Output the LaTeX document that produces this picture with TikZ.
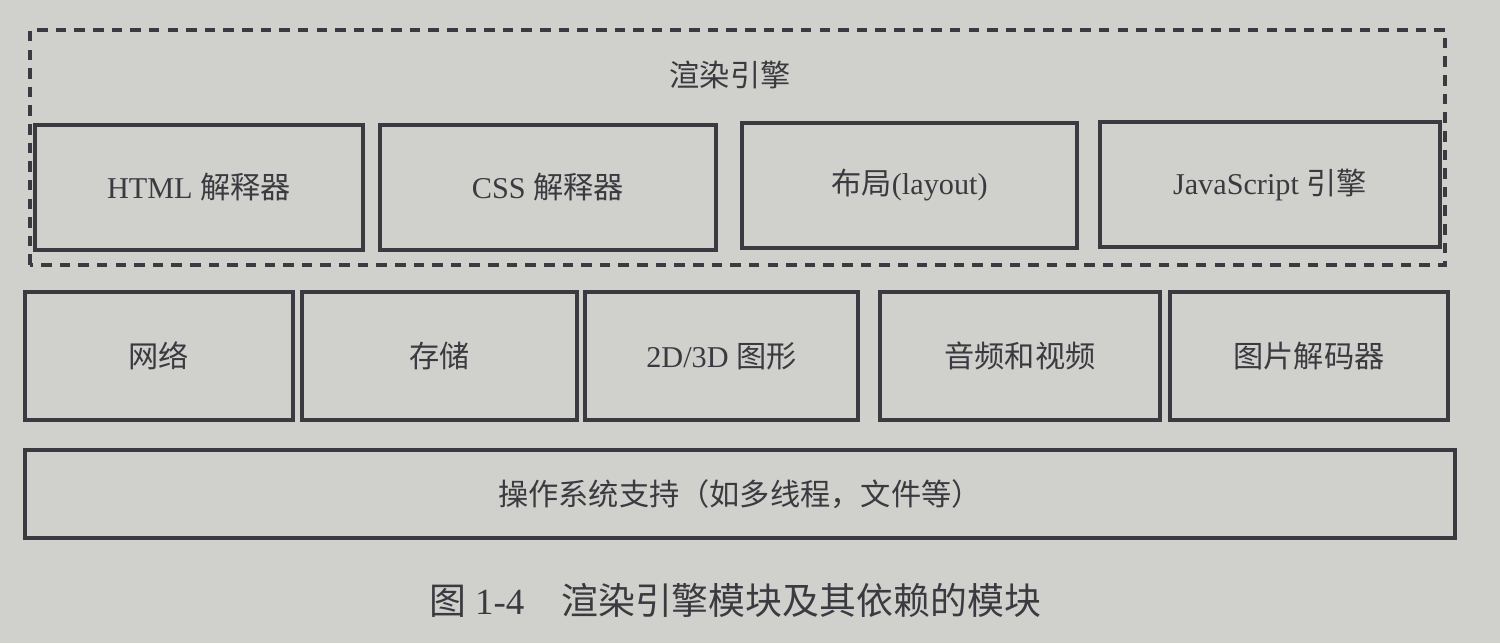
\documentclass[tikz,border=0pt]{standalone}
\usepackage{fontspec}
\setmainfont{Liberation Serif}
\newfontfamily\cjk{Noto Sans CJK SC}
\definecolor{paper}{RGB}{208,208,204}
\definecolor{ink}{RGB}{58,58,64}
\tikzset{
  module/.style={rectangle, draw=ink, line width=1.1pt, inner sep=0pt,
    text=ink, font=\fontsize{8.6}{10}\selectfont},
  toprow/.style={module, minimum height=1.25cm},
  midrow/.style={module, minimum height=1.28cm},
}

\begin{document}
\begin{tikzpicture}
      \fill[paper] (0,0) rectangle (15,6.43);
      \useasboundingbox (0,0) rectangle (15,6.43);

      % rendering engine
      \draw[ink, line width=1.1pt, dash pattern=on 3pt off 2.3pt]
      (0.30,3.78) rectangle (14.45,6.13);
      \node at(7.30,5.68) [text=ink, font=\fontsize{8.6}{10}\selectfont] (engine) {\cjk 渲染引擎};
      \node at(1.99,4.555) [toprow, minimum width=3.28cm] (html) {HTML {\cjk 解释器}};
      \node at(5.48,4.555) [toprow, minimum width=3.36cm] (css) {CSS {\cjk 解释器}};
      \node at(9.095,4.575) [toprow, minimum width=3.35cm] (layout) {{\cjk 布局}(layout)};
      \node at(12.70,4.585) [toprow, minimum width=3.40cm] (js) {JavaScript {\cjk 引擎}};

      % dependencies
      \node at(1.59,2.87) [midrow, minimum width=2.68cm] (net) {\cjk 网络};
      \node at(4.395,2.87) [midrow, minimum width=2.75cm] (storage) {\cjk 存储};
      \node at(7.215,2.87) [midrow, minimum width=2.73cm] (graphics) {2D/3D {\cjk 图形}};
      \node at(10.20,2.87) [midrow, minimum width=2.80cm] (media) {\cjk 音频和视频};
      \node at(13.09,2.87) [midrow, minimum width=2.78cm] (image) {\cjk 图片解码器};

      \node at(7.40,1.49) [module, minimum width=14.30cm, minimum height=0.88cm] (os)
      {\cjk 操作系统支持（如多线程，文件等）};

      \node at(7.35,0.43) [text=ink, font=\fontsize{10.5}{12}\selectfont] (caption)
      {{\cjk 图} 1-4\hspace{1em}{\cjk 渲染引擎模块及其依赖的模块}};
\end{tikzpicture}
\end{document}
